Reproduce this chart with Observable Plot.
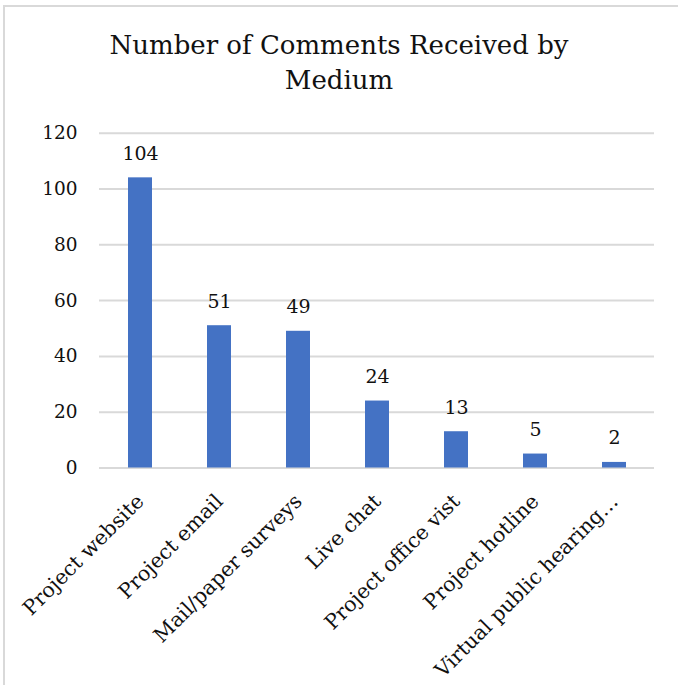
<!DOCTYPE html>
<html><head><meta charset="utf-8">
<script src="https://cdn.jsdelivr.net/npm/d3@7"></script>
<script src="https://cdn.jsdelivr.net/npm/@observablehq/plot@0.6"></script>
<style>
html,body{margin:0;padding:0;background:#fff;overflow:hidden}
#wrap{position:relative;width:678px;height:685px;overflow:hidden;background:#fff}
#frame{position:absolute;left:3px;top:5px;width:720px;height:720px;border:2px solid #d9d9d9;box-sizing:border-box;z-index:5;pointer-events:none}
#title{position:relative;height:110px;box-sizing:border-box;padding-top:28px;text-align:center;font-family:"DejaVu Serif";font-size:26px;line-height:35px;color:#111;white-space:nowrap}
#chart{position:relative;height:575px}
</style></head><body>
<div id="wrap">
<div id="title">Number of Comments Received by<br>Medium</div>
<div id="chart"></div>
<div id="frame"></div>
</div>
<script>
const categories = ["Project website","Project email","Mail/paper surveys","Live chat","Project office vist","Project hotline","Virtual public hearing\u2026"];
const values = [104,51,49,24,13,5,2];
const yTicks = [0,20,40,60,80,100,120];
const data = categories.map((c,i)=>({medium:c, count:values[i]}));
const plot = Plot.plot({
  width:678, height:575, marginLeft:99, marginRight:24, marginTop:22.7, marginBottom:217.5,
  style:{fontFamily:"DejaVu Serif", fontSize:"18px", color:"#111", background:"transparent"},
  x:{domain:categories, paddingInner:0.7, paddingOuter:0.35, axis:null},
  y:{domain:[0,120], axis:null},
  marks:[
    Plot.gridY(yTicks,{stroke:"#d9d9d9", strokeOpacity:1, strokeWidth:2}),
    Plot.axisY(yTicks,{tickSize:0, tickPadding:22, fontSize:18.5, label:null}),
    Plot.axisX({tickRotate:-45, tickSize:0, tickPadding:30, fontSize:20.5, label:null, textAnchor:"end"}),
    Plot.barY(data,{x:"medium", y:"count", fill:"#4472c4"}),
    Plot.text(data,{x:"medium", y:"count", text:d=>String(d.count), dy:-18, lineAnchor:"bottom", fontSize:19, fill:"#111"})
  ]
});
document.getElementById("chart").appendChild(plot);
</script>
</body></html>
